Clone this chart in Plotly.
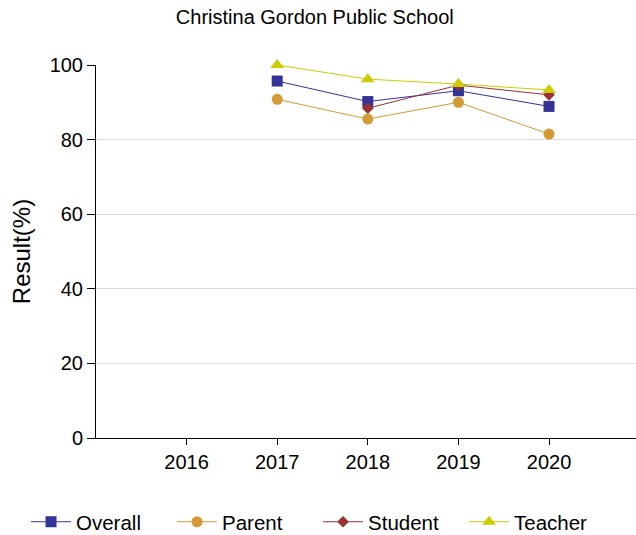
import plotly.graph_objects as go

years = [2016, 2017, 2018, 2019, 2020]
overall = [None, 95.7, 90.2, 93.1, 88.9]
parent = [None, 90.8, 85.5, 90.0, 81.5]
student = [None, None, 88.4, 94.6, 92.0]
teacher = [None, 100.0, 96.2, 94.9, 93.3]

series = [
    ("Overall", overall, "#333399", "square", 11),
    ("Parent", parent, "#D49A35", "circle", 11),
    ("Student", student, "#993333", "diamond", 9),
    ("Teacher", teacher, "#CCCC00", "triangle-up", 12),
]

fig = go.Figure()
for name, vals, color, sym, size in series:
    fig.add_trace(go.Scatter(
        x=years, y=vals, name=name, mode="lines+markers",
        line=dict(color=color, width=1),
        marker=dict(color=color, symbol=sym, size=size),
        cliponaxis=False,
    ))

fig.update_layout(
    width=636, height=535,
    margin=dict(l=96, r=0, t=65, b=97, autoexpand=False),
    paper_bgcolor="white", plot_bgcolor="white",
    font=dict(family="Liberation Sans, Arial, sans-serif", size=20, color="black"),
    title=dict(text="Christina Gordon Public School", x=0.495, xanchor="center",
               y=0.968, yanchor="middle", font=dict(size=20)),
    xaxis=dict(range=[2015, 2020.96], tickvals=years, ticktext=[str(y) for y in years],
               showgrid=False, showline=True, linecolor="black", linewidth=1,
               ticks="outside", ticklen=6, tickcolor="black", zeroline=False),
    yaxis=dict(range=[0, 100], tickvals=[0, 20, 40, 60, 80, 100],
               showgrid=True, gridcolor="#dddddd", showline=True, linecolor="black",
               linewidth=1, ticks="outside", ticklen=8, tickcolor="black", zeroline=False,
               title=dict(text="Result(%)", standoff=12)),
    legend=dict(orientation="h", x=-0.1296, xanchor="left", y=-0.225, yanchor="middle",
                font=dict(size=20.5), itemwidth=40, entrywidth=91, entrywidthmode="pixels"),
    showlegend=True,
)

fig.write_html("out.html", config={"displayModeBar": False},
               post_script="document.body.style.margin='0';document.body.style.overflow='hidden';")
